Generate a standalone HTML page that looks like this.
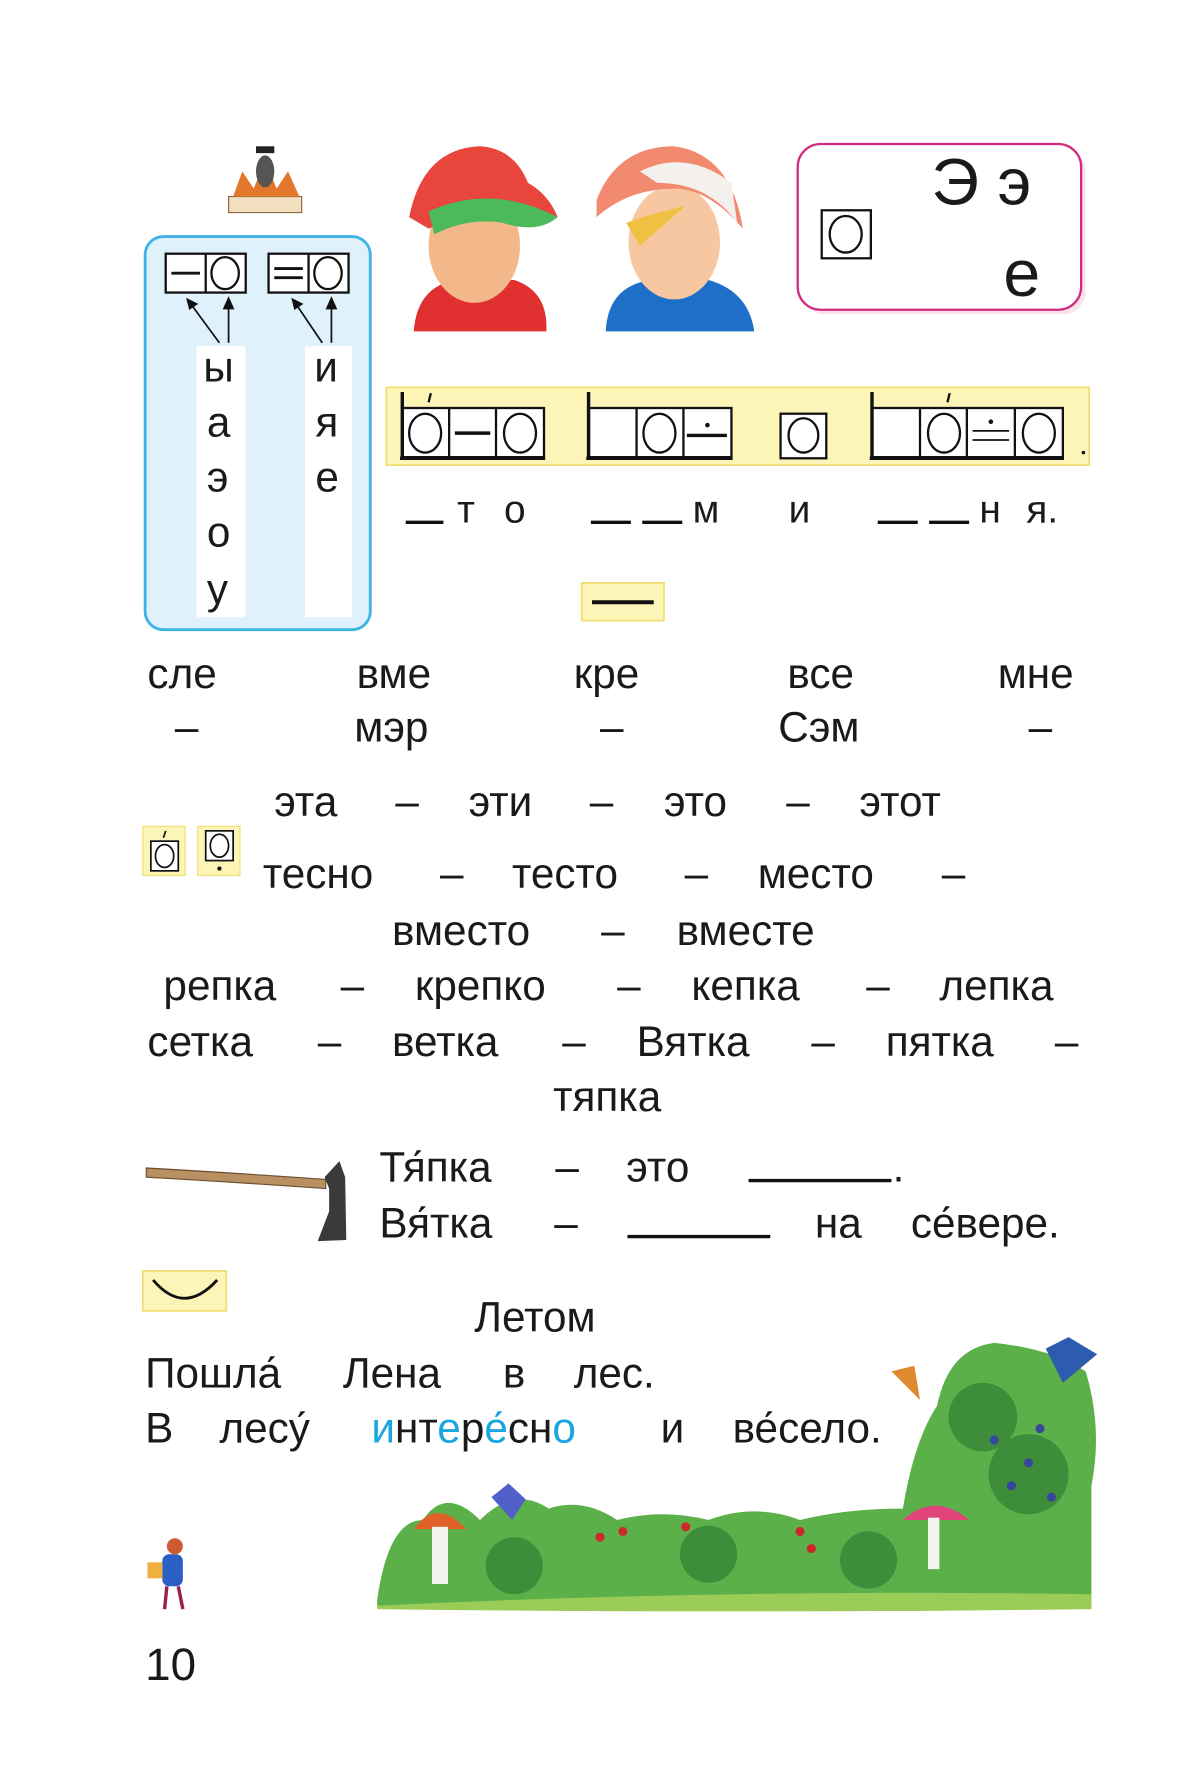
<!DOCTYPE html>
<html><head><meta charset="utf-8">
<style>
html,body{margin:0;padding:0;background:#fff;}
body{width:1200px;height:1786px;overflow:hidden;position:relative;}
#c{position:absolute;left:0;top:0;width:1050px;height:1563px;transform:scale(1.142857);transform-origin:0 0;}
.t{position:absolute;font-family:"Liberation Sans",sans-serif;font-size:37px;line-height:44px;color:#1a1a1a;white-space:pre;}
.b{color:#1aa6e0;}
svg{position:absolute;left:0;top:0;}
</style></head><body>
<div id="c">
<svg width="1050" height="1563" viewBox="0 0 1050 1563">
<rect x="200" y="172" width="64" height="14" fill="#f1dfc0" stroke="#8a6a40"/>
<path d="M204 172 L212 150 L222 165 L232 140 L242 165 L252 150 L262 172Z" fill="#e2762a"/>
<ellipse cx="232" cy="150" rx="8" ry="14" fill="#555"/>
<rect x="224" y="128" width="16" height="6" fill="#222"/>
<rect x="127" y="207" width="197" height="344" rx="16" fill="#dff1fb" stroke="#3fb3e6" stroke-width="2.5"/>
<rect x="172" y="303" width="43" height="237" fill="#fff"/>
<rect x="267" y="303" width="41" height="237" fill="#fff"/>
<g stroke="#111" stroke-width="2" fill="#fff">
<rect x="145" y="222" width="70" height="34"/><line x1="180" y1="222" x2="180" y2="256"/>
<rect x="235" y="222" width="70" height="34"/><line x1="270" y1="222" x2="270" y2="256"/>
<ellipse cx="197" cy="239" rx="12" ry="14"/><ellipse cx="287" cy="239" rx="12" ry="14"/>
</g>
<g stroke="#111" stroke-width="2.5">
<line x1="150" y1="239" x2="175" y2="239"/>
<line x1="240" y1="235" x2="265" y2="235"/><line x1="240" y1="243" x2="265" y2="243"/>
</g>
<g stroke="#111" stroke-width="1.5" fill="#111">
<line x1="192" y1="300" x2="167" y2="266"/><path d="M164 262 L172 266 L166 270Z"/>
<line x1="200" y1="300" x2="200" y2="266"/><path d="M200 261 L196 270 L204 270Z"/>
<line x1="282" y1="300" x2="259" y2="266"/><path d="M256 262 L264 266 L258 270Z"/>
<line x1="290" y1="300" x2="290" y2="266"/><path d="M290 261 L286 270 L294 270Z"/>
</g>
<g>
<path d="M362 290 Q365 250 400 245 L450 245 Q480 255 478 290Z" fill="#e03030"/>
<ellipse cx="415" cy="215" rx="40" ry="50" fill="#f3b889"/>
<path d="M358 190 Q370 130 420 128 Q450 130 462 160 Q480 170 488 190 Q440 175 375 200Z" fill="#e8453c"/>
<path d="M375 185 Q430 160 488 190 Q470 205 440 195 Q410 190 380 205Z" fill="#4cba5a"/>
<path d="M530 290 Q532 250 570 245 L620 245 Q655 255 660 290Z" fill="#1e6fc8"/>
<ellipse cx="590" cy="212" rx="40" ry="50" fill="#f6c7a0"/>
<path d="M548 195 Q560 190 600 180 L560 215Z" fill="#f0c040"/>
<path d="M522 175 Q540 128 590 128 Q640 135 650 200 Q620 165 590 165 Q550 165 522 190Z" fill="#f28a70"/>
<path d="M560 150 Q600 130 640 160 L645 195 Q620 160 575 160Z" fill="#f4f0ee"/>
</g>
<rect x="702" y="130" width="248" height="145" rx="20" fill="#fbe3ee"/>
<rect x="698" y="126" width="248" height="145" rx="20" fill="#fff" stroke="#d42a80" stroke-width="2"/>
<rect x="719" y="184" width="43" height="42" fill="#fff" stroke="#111" stroke-width="2"/>
<ellipse cx="740" cy="205" rx="14" ry="16" fill="none" stroke="#111" stroke-width="2"/>
<rect x="338" y="339" width="615" height="68" fill="#fdf5b8" stroke="#f1df6e" stroke-width="1.5"/>
<g fill="#fff" stroke="#111" stroke-width="2">
<rect x="352" y="357" width="124" height="43"/><line x1="393" y1="357" x2="393" y2="400"/><line x1="434" y1="357" x2="434" y2="400"/>
<rect x="515" y="357" width="125" height="43"/><line x1="557" y1="357" x2="557" y2="400"/><line x1="598" y1="357" x2="598" y2="400"/>
<rect x="683" y="362" width="40" height="39"/>
<rect x="763" y="357" width="167" height="43"/><line x1="805" y1="357" x2="805" y2="400"/><line x1="846" y1="357" x2="846" y2="400"/><line x1="888" y1="357" x2="888" y2="400"/>
<ellipse cx="372" cy="379" rx="14" ry="17"/><ellipse cx="455" cy="379" rx="14" ry="17"/>
<ellipse cx="577" cy="379" rx="14" ry="17"/><ellipse cx="703" cy="381" rx="13" ry="15"/>
<ellipse cx="826" cy="379" rx="14" ry="17"/><ellipse cx="909" cy="379" rx="14" ry="17"/>
</g>
<g stroke="#111" stroke-width="3" fill="#111">
<line x1="352" y1="343" x2="352" y2="401"/><line x1="350" y1="401" x2="477" y2="401"/>
<line x1="515" y1="343" x2="515" y2="401"/><line x1="513" y1="401" x2="641" y2="401"/>
<line x1="763" y1="343" x2="763" y2="401"/><line x1="761" y1="401" x2="931" y2="401"/>
<line x1="398" y1="379" x2="429" y2="379"/>
<line x1="601" y1="381" x2="636" y2="381"/><circle cx="619" cy="372" r="2" stroke="none"/>
<line x1="851" y1="377" x2="883" y2="377" stroke-width="1.5"/><line x1="851" y1="385" x2="883" y2="385" stroke-width="1.5"/><circle cx="867" cy="369" r="2" stroke="none"/>
<circle cx="948" cy="396" r="1.5" stroke="none"/>
</g>
<g stroke="#111" stroke-width="2"><line x1="375" y1="352" x2="377" y2="344"/><line x1="829" y1="352" x2="831" y2="344"/></g>
<!-- blanks for row -->
<g stroke="#111" stroke-width="3">
<line x1="355" y1="457" x2="388" y2="457"/>
<line x1="517" y1="457" x2="552" y2="457"/><line x1="562" y1="457" x2="597" y2="457"/>
<line x1="768" y1="457" x2="803" y2="457"/><line x1="813" y1="457" x2="848" y2="457"/>
</g>
<rect x="509" y="510" width="72" height="33" fill="#fdf5b8" stroke="#f1df6e" stroke-width="1.5"/>
<line x1="518" y1="527" x2="572" y2="527" stroke="#111" stroke-width="3.5"/>
<rect x="125" y="723" width="37" height="43" fill="#fdf5b8" stroke="#f1df6e"/>
<rect x="132" y="736" width="24" height="26" fill="#fff" stroke="#111" stroke-width="1.5"/>
<ellipse cx="144" cy="749" rx="8" ry="10" fill="none" stroke="#111" stroke-width="1.5"/>
<line x1="143" y1="733" x2="145" y2="727" stroke="#111" stroke-width="1.5"/>
<rect x="173" y="723" width="37" height="43" fill="#fdf5b8" stroke="#f1df6e"/>
<rect x="180" y="727" width="24" height="26" fill="#fff" stroke="#111" stroke-width="1.5"/>
<ellipse cx="192" cy="740" rx="8" ry="10" fill="none" stroke="#111" stroke-width="1.5"/>
<circle cx="192" cy="760" r="1.8" fill="#111"/>
<path d="M128 1022 Q200 1026 285 1032 L285 1040 Q200 1034 128 1030Z" fill="#b89062" stroke="#6b4e2e"/>
<path d="M284 1030 L297 1016 L302 1030 L303 1085 L278 1086 L288 1060 L288 1040Z" fill="#3a3a3a"/>
<line x1="655" y1="1033" x2="780" y2="1033" stroke="#111" stroke-width="3"/>
<line x1="549" y1="1082" x2="674" y2="1082" stroke="#111" stroke-width="3"/>
<rect x="125" y="1112" width="73" height="35" fill="#fdf5b8" stroke="#f1df6e" stroke-width="1.5"/>
<path d="M134 1120 Q161 1152 190 1120" fill="none" stroke="#111" stroke-width="2.5"/>
<rect x="142" y="1360" width="18" height="28" rx="6" fill="#2a5fc4"/>
<circle cx="153" cy="1353" r="7" fill="#d05a30"/>
<rect x="129" y="1367" width="13" height="14" fill="#f0b040"/>
<line x1="146" y1="1388" x2="144" y2="1408" stroke="#9a2050" stroke-width="3"/>
<line x1="156" y1="1388" x2="160" y2="1408" stroke="#9a2050" stroke-width="3"/>
<path d="M330 1400 Q340 1330 370 1330 Q390 1300 420 1330 Q450 1300 480 1320 Q510 1310 540 1330 Q580 1320 620 1330 Q660 1315 700 1330 Q740 1320 790 1320 Q800 1260 820 1230 Q830 1180 870 1175 Q920 1180 950 1200 Q965 1250 955 1300 L955 1405 Q640 1412 330 1405Z" fill="#5cb04a"/>
<path d="M330 1405 Q640 1390 955 1395 L955 1408 Q640 1412 330 1408Z" fill="#9ccc58"/>
<g fill="#3d8d3a"><circle cx="860" cy="1240" r="30"/><circle cx="900" cy="1290" r="35"/><circle cx="450" cy="1370" r="25"/><circle cx="620" cy="1360" r="25"/><circle cx="760" cy="1365" r="25"/></g>
<g fill="#35489a"><circle cx="870" cy="1260" r="4"/><circle cx="900" cy="1280" r="4"/><circle cx="885" cy="1300" r="4"/><circle cx="920" cy="1310" r="4"/><circle cx="910" cy="1250" r="4"/></g>
<path d="M362 1338 Q382 1310 408 1338Z" fill="#e0602a"/><rect x="378" y="1336" width="14" height="50" fill="#f2f2ee"/>
<path d="M790 1330 Q818 1305 848 1330Z" fill="#e0447a"/><rect x="812" y="1328" width="10" height="45" fill="#f2f2ee"/>
<g fill="#cc2a2a"><circle cx="525" cy="1345" r="4"/><circle cx="545" cy="1340" r="4"/><circle cx="600" cy="1336" r="4"/><circle cx="700" cy="1340" r="4"/><circle cx="710" cy="1355" r="4"/></g>
<path d="M915 1180 L935 1170 L960 1185 L930 1210 Z" fill="#2d5cae"/>
<path d="M780 1200 L800 1195 L805 1225 Z" fill="#e08a30"/>
<path d="M430 1310 L445 1298 L460 1312 L448 1330Z" fill="#5060c8"/>
</svg>

<div class="t" style="left:178px;top:300px">ы</div>
<div class="t" style="left:181px;top:348px">а</div>
<div class="t" style="left:181px;top:396px">э</div>
<div class="t" style="left:181px;top:444px">о</div>
<div class="t" style="left:181px;top:494px">у</div>
<div class="t" style="left:275px;top:300px">и</div>
<div class="t" style="left:276px;top:348px">я</div>
<div class="t" style="left:276px;top:396px">е</div>
<div class="t" style="left:815px;top:126px;font-size:58px;line-height:68px">Э э</div>
<div class="t" style="left:878px;top:206px;font-size:58px;line-height:68px">е</div>
<div class="t" style="left:400px;top:424px;font-size:34px">т</div>
<div class="t" style="left:441px;top:424px;font-size:34px">о</div>
<div class="t" style="left:606px;top:424px;font-size:34px">м</div>
<div class="t" style="left:690px;top:424px;font-size:34px">и</div>
<div class="t" style="left:857px;top:424px;font-size:34px">н</div>
<div class="t" style="left:898px;top:424px;font-size:34px">я.</div>

<div class="t" style="left:129px;top:568px">сле</div>
<div class="t" style="left:312px;top:568px">вме</div>
<div class="t" style="left:502px;top:568px">кре</div>
<div class="t" style="left:689px;top:568px">все</div>
<div class="t" style="left:873px;top:568px">мне</div>
<div class="t" style="left:153px;top:615px">–</div>
<div class="t" style="left:310px;top:615px">мэр</div>
<div class="t" style="left:525px;top:615px">–</div>
<div class="t" style="left:681px;top:615px">Сэм</div>
<div class="t" style="left:900px;top:615px">–</div>

<div class="t" style="left:240px;top:680px">эта</div><div class="t" style="left:346px;top:680px">–</div>
<div class="t" style="left:410px;top:680px">эти</div><div class="t" style="left:516px;top:680px">–</div>
<div class="t" style="left:581px;top:680px">это</div><div class="t" style="left:688px;top:680px">–</div>
<div class="t" style="left:752px;top:680px">этот</div>

<div class="t" style="left:230px;top:743px">тесно</div><div class="t" style="left:385px;top:743px">–</div>
<div class="t" style="left:448px;top:743px">тесто</div><div class="t" style="left:599px;top:743px">–</div>
<div class="t" style="left:663px;top:743px">место</div><div class="t" style="left:824px;top:743px">–</div>

<div class="t" style="left:343px;top:793px">вместо</div><div class="t" style="left:526px;top:793px">–</div>
<div class="t" style="left:592px;top:793px">вместе</div>

<div class="t" style="left:143px;top:841px">репка</div><div class="t" style="left:298px;top:841px">–</div>
<div class="t" style="left:363px;top:841px">крепко</div><div class="t" style="left:540px;top:841px">–</div>
<div class="t" style="left:605px;top:841px">кепка</div><div class="t" style="left:758px;top:841px">–</div>
<div class="t" style="left:822px;top:841px">лепка</div>

<div class="t" style="left:129px;top:890px">сетка</div><div class="t" style="left:278px;top:890px">–</div>
<div class="t" style="left:343px;top:890px">ветка</div><div class="t" style="left:492px;top:890px">–</div>
<div class="t" style="left:557px;top:890px">Вятка</div><div class="t" style="left:710px;top:890px">–</div>
<div class="t" style="left:775px;top:890px">пятка</div><div class="t" style="left:923px;top:890px">–</div>
<div class="t" style="left:484px;top:938px">тяпка</div>

<div class="t" style="left:332px;top:1000px">Тя́пка</div><div class="t" style="left:486px;top:1000px">–</div>
<div class="t" style="left:548px;top:1000px">это</div><div class="t" style="left:781px;top:1000px">.</div>
<div class="t" style="left:332px;top:1049px">Вя́тка</div><div class="t" style="left:485px;top:1049px">–</div>
<div class="t" style="left:713px;top:1049px">на</div><div class="t" style="left:797px;top:1049px">се́вере.</div>

<div class="t" style="left:415px;top:1131px">Летом</div>
<div class="t" style="left:127px;top:1180px">Пошла́</div><div class="t" style="left:300px;top:1180px">Лена</div>
<div class="t" style="left:440px;top:1180px">в</div><div class="t" style="left:502px;top:1180px">лес.</div>
<div class="t" style="left:127px;top:1228px">В</div><div class="t" style="left:192px;top:1228px">лесу́</div>
<div class="t" style="left:325px;top:1228px"><span class="b">и</span>нт<span class="b">е</span>р<span class="b">е́</span>сн<span class="b">о</span></div>
<div class="t" style="left:578px;top:1228px">и</div><div class="t" style="left:641px;top:1228px">ве́село.</div>

<div class="t" style="left:127px;top:1435px;font-size:40px">10</div>
</div>
</body></html>
